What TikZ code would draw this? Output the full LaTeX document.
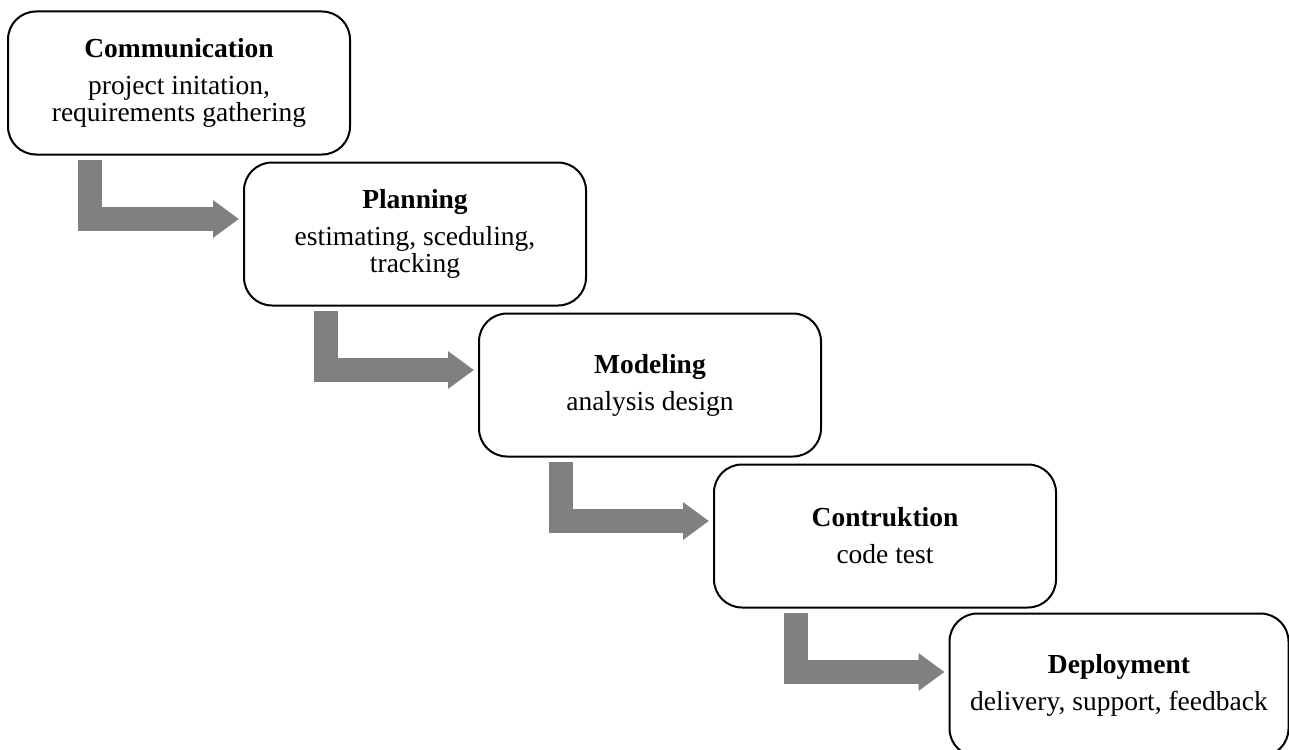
\documentclass[tikz,border=0pt]{standalone}
\usepackage{fontspec}
\setmainfont{Liberation Serif}
\usetikzlibrary{arrows.meta,calc}
\begin{document}
\begin{tikzpicture}[x=0.5pt,y=-0.5pt,
  phase/.style={draw,line width=1pt,rounded corners=14pt,minimum width=171pt,minimum height=71.5pt,
    align=center,inner sep=0pt,font=\fontsize{13.75}{13.5}\selectfont},
  flow/.style={draw=gray,line width=12pt,-{Triangle[width=18pt,length=13pt]}}]
\useasboundingbox (0,0) rectangle (1289,749);

\node[phase] (comm) at (179,83) {\textbf{Communication}\\[5pt]project initation,\\requirements gathering};
\node[phase] (plan) at (415,234) {\textbf{Planning}\\[5pt]estimating, sceduling,\\tracking};
\node[phase] (model) at (650,385) {\textbf{Modeling}\\[5pt]analysis design};
\node[phase] (constr) at (885,536) {\textbf{Contruktion}\\[5pt]code test};
\node[phase,minimum width=169.5pt] (deploy) at (1119,685) {\textbf{Deployment}\\[5pt]delivery, support, feedback};

\draw[flow] ($(comm.south west)+(83,4)$) |- ($(plan.west)+(-4,-15)$);
\draw[flow] ($(plan.south west)+(83,4)$) |- ($(model.west)+(-4,-15)$);
\draw[flow] ($(model.south west)+(83,4)$) |- ($(constr.west)+(-4,-15)$);
\draw[flow] ($(constr.south west)+(83,4)$) |- ($(deploy.west)+(-4,-13)$);
\end{tikzpicture}
\end{document}
